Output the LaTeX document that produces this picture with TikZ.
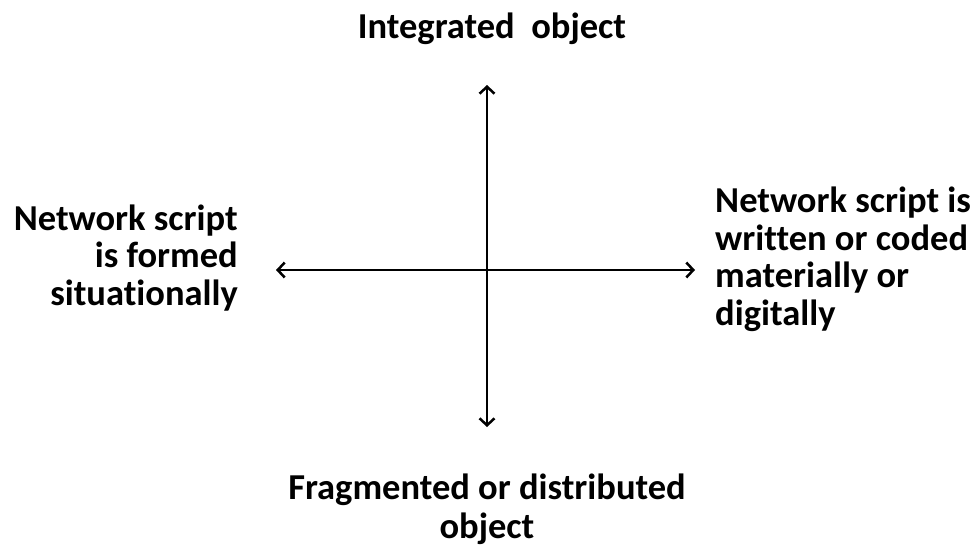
\documentclass[tikz,border=0pt]{standalone}
\usepackage{fontspec}
\setmainfont[Ligatures=NoCommon]{Carlito}
\usetikzlibrary{arrows.meta}
\begin{document}
\begin{tikzpicture}[x=1pt,y=-1pt,
  lbl/.style={font=\bfseries\fontsize{36.5}{37.5}\selectfont,inner sep=0pt},
  axis/.style={line width=2.2pt,{Straight Barb[length=7pt,width=15pt,line width=2.5pt]}-{Straight Barb[length=7pt,width=15pt,line width=2.5pt]}}]
\useasboundingbox[fill=white] (0,0) rectangle (978,552);
\coordinate (top) at (487,85);
\coordinate (bot) at (487,427);
\coordinate (lft) at (276,270);
\coordinate (rgt) at (695,270);
\draw[axis] (bot) -- (top);
\draw[axis] (lft) -- (rgt);
\node[lbl,anchor=base] (t) at (492,38) {Integrated\ \ object};
\node[lbl,anchor=base east,align=right] (l) at (238,305) {Network script\\is formed\\situationally};
\node[lbl,anchor=base west,align=left] (r) at (715,325) {Network script is\\written or coded\\materially or\\digitally};
\node[lbl,anchor=base,align=center,font=\bfseries\fontsize{36.5}{39}\selectfont] (b) at (487,538) {Fragmented or distributed\\object};
\end{tikzpicture}
\end{document}
